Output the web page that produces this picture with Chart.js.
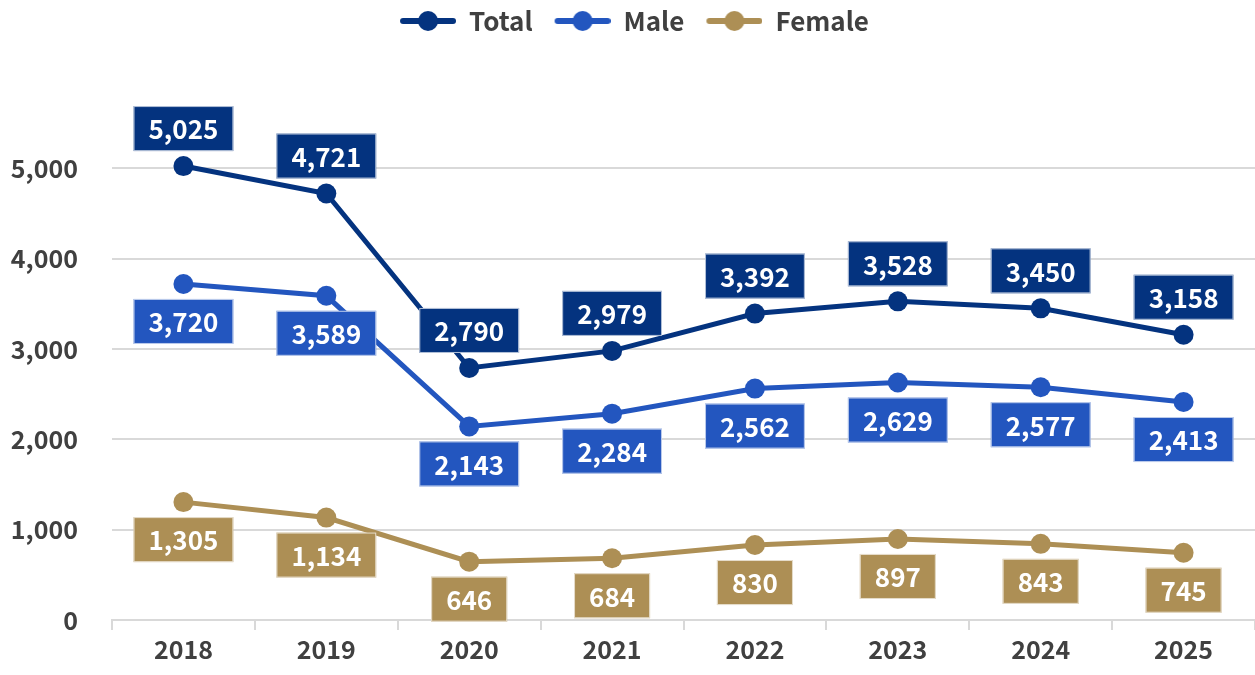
<!DOCTYPE html>
<html>
<head>
<meta charset="utf-8">
<script src="https://cdn.jsdelivr.net/npm/chart.js@4"></script>
<style>
  html, body { margin: 0; padding: 0; background: #fff; overflow: hidden; }
  canvas { display: block; }
</style>
</head>
<body>
<canvas id="lineChart" width="1255" height="675"></canvas>
<script>
const years = ['2018', '2019', '2020', '2021', '2022', '2023', '2024', '2025'];
const totalValues = [5025, 4721, 2790, 2979, 3392, 3528, 3450, 3158];
const maleValues = [3720, 3589, 2143, 2284, 2562, 2629, 2577, 2413];
const femaleValues = [1305, 1134, 646, 684, 830, 897, 843, 745];
const yTicks = [0, 1000, 2000, 3000, 4000, 5000];

const FONT = "'Noto Sans CJK JP', 'Noto Sans', sans-serif";
const TEXT = '#404040';
const GRID = '#d9d9d9';

// little line + dot icon for the legend
function legendIcon(color) {
    const c = document.createElement('canvas');
    c.width = 70; c.height = 24;
    const g = c.getContext('2d');
    g.strokeStyle = color;
    g.lineWidth = 6;
    g.lineCap = 'round';
    g.beginPath(); g.moveTo(17, 12); g.lineTo(67, 12); g.stroke();
    g.fillStyle = color;
    g.beginPath(); g.arc(42, 12, 10, 0, Math.PI * 2); g.fill();
    return c;
}

// value boxes above (Total) or below (Male, Female) each point
const valueBoxes = {
    id: 'valueBoxes',
    afterDatasetsDraw(chart) {
        const ctx = chart.ctx;
        ctx.save();
        ctx.font = 'bold 26px ' + FONT;
        ctx.textAlign = 'center';
        ctx.textBaseline = 'middle';
        chart.data.datasets.forEach((ds, i) => {
            const meta = chart.getDatasetMeta(i);
            meta.data.forEach((pt, j) => {
                const txt = ds.data[j].toLocaleString('en-US');
                const w = ctx.measureText(txt).width + 30;
                const h = 45;
                const top = ds.labelAbove ? pt.y - 15 - h : pt.y + 15;
                ctx.fillStyle = ds.borderColor;
                ctx.fillRect(pt.x - w / 2, top, w, h);
                ctx.strokeStyle = 'rgba(255,255,255,0.7)';
                ctx.lineWidth = 1;
                ctx.strokeRect(pt.x - w / 2 + 0.5, top + 0.5, w - 1, h - 1);
                ctx.fillStyle = '#fff';
                ctx.fillText(txt, pt.x, top + h / 2 + 1);
            });
        });
        ctx.restore();
    }
};

// extra room under the legend
const legendSpace = {
    id: 'legendSpace',
    beforeInit(chart) {
        const fit = chart.legend.fit;
        chart.legend.fit = function () {
            fit.bind(chart.legend)();
            this.height += 34;
        };
    }
};

function series(label, values, color, above) {
    return {
        label: label,
        data: values,
        borderColor: color,
        backgroundColor: color,
        pointBackgroundColor: color,
        pointBorderWidth: 0,
        pointRadius: 10,
        pointHoverRadius: 10,
        borderWidth: 5,
        tension: 0,
        labelAbove: above,
        pointStyle: 'circle',
        legendIcon: legendIcon(color)
    };
}

const ctx = document.getElementById('lineChart').getContext('2d');
new Chart(ctx, {
    type: 'line',
    data: {
        labels: years,
        datasets: [
            series('Total', totalValues, '#04337f', true),
            series('Male', maleValues, '#2356bf', false),
            series('Female', femaleValues, '#ad8f55', false)
        ]
    },
    options: {
        responsive: false,
        animation: false,
        layout: { autoPadding: false, padding: 0 },
        plugins: {
            tooltip: { enabled: false },
            legend: {
                position: 'top',
                labels: {
                    color: TEXT,
                    font: { family: FONT, size: 26, weight: '600' },
                    usePointStyle: true,
                    pointStyleWidth: 70,
                    padding: 8,
                    generateLabels(chart) {
                        return chart.data.datasets.map((ds, i) => ({
                            text: ds.label,
                            fontColor: TEXT,
                            pointStyle: ds.legendIcon,
                            lineWidth: 0,
                            datasetIndex: i,
                            hidden: false
                        }));
                    }
                }
            }
        },
        scales: {
            x: {
                offset: true,
                grid: {
                    offset: true,
                    drawOnChartArea: false,
                    drawTicks: true,
                    tickLength: 10,
                    color: GRID,
                    lineWidth: 2
                },
                border: { color: GRID, width: 2 },
                ticks: {
                    color: TEXT,
                    font: { family: FONT, size: 25, weight: '600' },
                    padding: 4
                },
                afterFit(scale) {
                    scale.height = 55;
                    scale.paddingLeft = 0;
                    scale.paddingRight = 0;
                }
            },
            y: {
                min: 0,
                max: 6000,
                afterBuildTicks(scale) {
                    scale.ticks = yTicks.map(v => ({ value: v }));
                },
                grid: {
                    drawTicks: false,
                    color: GRID,
                    lineWidth: 2
                },
                border: { display: false },
                ticks: {
                    color: TEXT,
                    font: { family: FONT, size: 25, weight: '600' },
                    padding: 34,
                    callback: v => v.toLocaleString('en-US')
                },
                afterFit(scale) { scale.width = 112; }
            }
        }
    },
    plugins: [valueBoxes, legendSpace]
});
</script>
</body>
</html>
